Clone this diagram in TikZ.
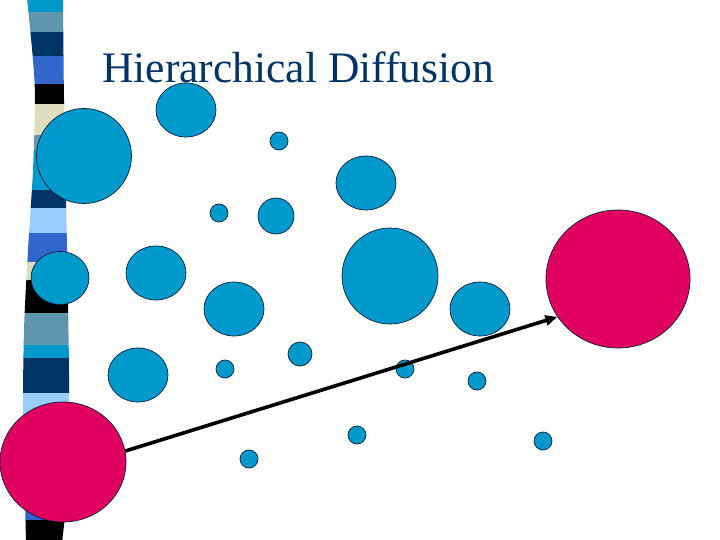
\documentclass[tikz,border=0pt]{standalone}
\usepackage{fontspec}
\setmainfont{Liberation Serif}
\usetikzlibrary{shapes.geometric,arrows.meta}
\definecolor{dotblue}{RGB}{0,153,204}
\definecolor{dotred}{RGB}{224,0,96}
\definecolor{navy}{RGB}{0,51,102}
\definecolor{steel}{RGB}{95,150,174}
\definecolor{royal}{RGB}{51,102,204}
\definecolor{beige}{RGB}{221,221,187}
\definecolor{lightb}{RGB}{153,204,255}
\definecolor{outl}{RGB}{10,30,60}
\tikzset{
  dot/.style={ellipse,draw=outl,line width=0.7pt,fill=dotblue,inner sep=0pt,minimum width=#1*2pt,minimum height=#1*2pt},
  edot/.style={ellipse,draw=outl,line width=0.7pt,fill=dotblue,inner sep=0pt,minimum width=60pt,minimum height=54pt},
  bigred/.style={ellipse,draw=outl,line width=0.7pt,fill=dotred,inner sep=0pt},
  jump/.style={line width=3.6pt,-{Triangle[length=12pt,width=10pt]}}
}
\begin{document}
\begin{tikzpicture}[x=1pt,y=-1pt]
\useasboundingbox (0,0) rectangle (720,540);
\fill[white] (0,0) rectangle (720,540);
% striped bar
\begin{scope}
\clip plot[smooth] coordinates {(27,-2) (33,60) (35,100) (33,170) (28,250) (24,330) (23,420) (25,500) (26,542)}
  -- plot[smooth] coordinates {(62,542) (66,500) (69,400) (68,300) (66,200) (64,100) (63,-2)} -- cycle;
\fill[dotblue] (0,-2) rectangle (80,12);
\fill[steel] (0,12) rectangle (80,32);
\fill[navy] (0,32) rectangle (80,56);
\fill[royal] (0,56) rectangle (80,84);
\fill[black] (0,84) rectangle (80,104);
\fill[beige] (0,104) rectangle (80,135);
\fill[steel] (0,135) rectangle (80,150);
\fill[dotblue] (0,150) rectangle (80,190);
\fill[navy] (0,190) rectangle (80,208);
\fill[lightb] (0,208) rectangle (80,233);
\fill[royal] (0,233) rectangle (80,262);
\fill[beige] (0,262) rectangle (80,280);
\fill[black] (0,280) rectangle (80,313);
\fill[steel] (0,313) rectangle (80,345);
\fill[dotblue] (0,345) rectangle (80,358);
\fill[navy] (0,358) rectangle (80,393);
\fill[lightb] (0,393) rectangle (80,425);
\fill[royal] (0,425) rectangle (80,520);
\fill[black] (0,520) rectangle (80,542);
\end{scope}
% title
\node[anchor=base west,inner sep=0pt,text=navy,font=\fontsize{43.5}{50}\selectfont] (title) at (102,83) {Hierarchical Diffusion};
% blue dots
\node[dot=47.5] (c1) at (84,156) {};
\node[edot] (c2) at (186,110) {};
\node[dot=9] (c3) at (279,141) {};
\node[edot] (c4) at (366,183) {};
\node[dot=9] (c5) at (219,213) {};
\node[dot=18] (c6) at (276,216) {};
\node[edot,minimum width=58pt,minimum height=53pt] (c7) at (60,278) {};
\node[edot] (c8) at (156,273) {};
\node[edot] (c9) at (234,309) {};
\node[dot=48] (c10) at (390,276) {};
\node[edot] (c11) at (480,309) {};
\node[edot] (c12) at (138,375) {};
\node[dot=9] (c13) at (225,369) {};
\node[dot=12] (c14) at (300,354) {};
\node[dot=9] (c15) at (405,369) {};
\node[dot=9] (c16) at (477,381) {};
\node[dot=9] (c17) at (357,435) {};
\node[dot=9] (c18) at (249,459) {};
\node[dot=9] (c19) at (543,441) {};
% red circles
\node[bigred,minimum width=144pt,minimum height=138pt] (target) at (618,279) {};
\node[bigred,minimum width=126pt,minimum height=120pt] (source) at (63,462) {};
% arrow
\draw[jump] (source.10) -- (target.212);
\end{tikzpicture}
\end{document}
